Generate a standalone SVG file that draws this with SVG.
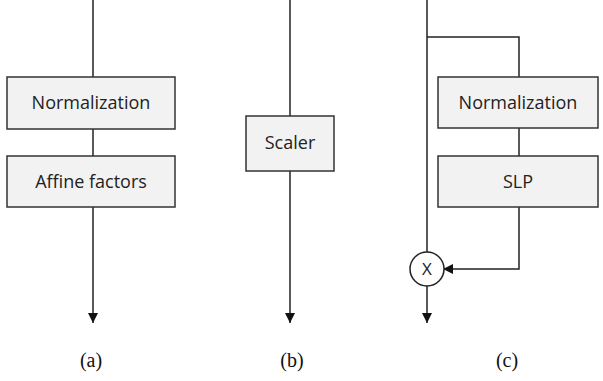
<svg xmlns="http://www.w3.org/2000/svg" width="603" height="381" viewBox="0 0 603 381">
<style>
.box{fill:#f2f2f2;stroke:#333;stroke-width:1.5}
.ln{fill:none;stroke:#222;stroke-width:1.5}
.t{font-family:"Open Sans","Noto Sans",sans-serif;font-size:18px;fill:#222;text-anchor:middle}
.cap{font-family:"Liberation Serif",serif;font-size:20px;fill:#111;text-anchor:middle}
</style>
<defs>
<marker id="ah" markerWidth="10" markerHeight="10" refX="10" refY="5" orient="auto" markerUnits="userSpaceOnUse">
<path d="M0,0 L10,5 L0,10 Z" fill="#111"/>
</marker>
</defs>
<g id="connectors">
<line class="ln" x1="93" y1="0" x2="93" y2="77"/>
<line class="ln" x1="93" y1="129" x2="93" y2="156"/>
<line class="ln" x1="93" y1="207" x2="93" y2="323" marker-end="url(#ah)"/>
<line class="ln" x1="290" y1="0" x2="290" y2="116"/>
<line class="ln" x1="290" y1="171" x2="290" y2="323" marker-end="url(#ah)"/>
<line class="ln" x1="427" y1="0" x2="427" y2="252"/>
<polyline class="ln" points="427,37 519,37 519,77"/>
<line class="ln" x1="519" y1="128" x2="519" y2="156"/>
<polyline class="ln" points="519,207 519,269 443,269" marker-end="url(#ah)"/>
<line class="ln" x1="427" y1="286" x2="427" y2="323" marker-end="url(#ah)"/>
</g>
<g id="a-norm"><rect class="box" x="7" y="77" width="168" height="52"/><text class="t" x="91" y="109">Normalization</text></g>
<g id="a-affine"><rect class="box" x="7" y="156" width="168" height="51"/><text class="t" x="91" y="188">Affine factors</text></g>
<g id="b-scaler"><rect class="box" x="246" y="116" width="88" height="55"/><text class="t" x="290" y="149">Scaler</text></g>
<g id="c-norm"><rect class="box" x="438" y="77" width="160" height="51"/><text class="t" x="518" y="109">Normalization</text></g>
<g id="c-slp"><rect class="box" x="438" y="156" width="160" height="51"/><text class="t" x="518" y="188">SLP</text></g>
<g id="c-mult"><circle cx="427" cy="269" r="17" fill="#fff" stroke="#222" stroke-width="1.5"/><text class="t" x="427" y="275" style="font-size:17px">X</text></g>
<text class="cap" x="91" y="367">(a)</text>
<text class="cap" x="292" y="367">(b)</text>
<text class="cap" x="507" y="367">(c)</text>
</svg>
